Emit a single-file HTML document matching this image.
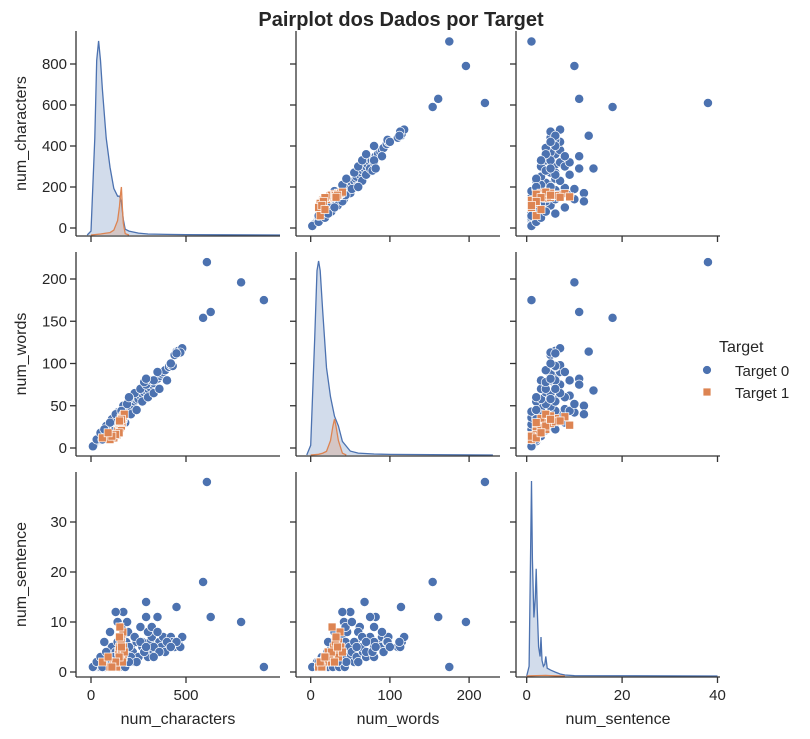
<!DOCTYPE html>
<html><head><meta charset="utf-8"><style>
html,body{margin:0;padding:0;background:#fff;}
svg{display:block;font-family:"Liberation Sans","DejaVu Sans",sans-serif;}
</style></head><body>
<svg id="chart" width="810" height="739" viewBox="0 0 810 739" xmlns="http://www.w3.org/2000/svg">
<text x="401" y="26" text-anchor="middle" font-size="20" font-weight="bold" fill="#262626">Pairplot dos Dados por Target</text>
<g id="g"></g>
<g>
<text x="719" y="352" font-size="16" fill="#262626">Target</text>
<circle cx="707" cy="370" r="4.5" fill="#4c72b0" stroke="#fff" stroke-width="0.8"/>
<text x="735" y="376" font-size="15" fill="#262626">Target 0</text>
<rect x="703" y="388" width="8" height="8" fill="#dd8452" stroke="#fff" stroke-width="0.8"/>
<text x="735" y="398" font-size="15" fill="#262626">Target 1</text>
</g>
</svg>
<script>
const vars = ["num_characters","num_words","num_sentence"];
const t0Chars = [20,25,30,35,40,45,50,55,60,65,70,75,80,85,90,95,100,105,110,115,120,125,130,135,140,145,150,155,160,165,170,175,180,185,190,195,200,210,220,230,240,250,260,270,280,290,300,310,320,330,340,350,360,370,380,390,410,420,440,450,460,480,470,430,15,10,30,60,90,120,150,180,210,240,270,300,330,360,400,50,80,110,140,170,200,230,260,290,320,350,130,100,70,160,190,910,790,630,610,590,450,420,330,280,200,290];
const t0Words = [5,6,7,8,9,10,12,13,14,15,16,18,19,20,21,22,24,25,26,27,28,30,31,32,34,35,36,37,38,39,40,42,43,44,45,46,47,49,52,55,57,58,62,64,66,68,70,72,75,77,80,82,85,88,90,92,96,98,110,114,115,118,113,97,3,2,10,10,15,20,25,30,40,45,55,60,65,70,80,18,26,34,42,50,58,65,70,75,80,90,40,30,22,44,52,175,196,161,220,154,112,100,80,78,60,82];
const t0Sents = [1,1,1,2,1,2,1,2,3,1,2,1,3,2,4,1,2,3,5,2,1,3,4,2,6,3,1,5,2,7,4,3,1,6,2,8,3,5,4,2,6,3,9,5,4,14,3,6,7,4,5,11,6,5,7,4,6,7,5,13,6,7,5,6,1,1,2,1,2,3,4,5,3,2,6,8,5,4,6,3,4,2,10,12,5,7,6,11,9,8,12,8,6,9,10,1,10,11,38,18,6,5,3,4,2,5];
const t1Chars = [150,155,160,165,170,145,140,158,162,168,152,150,135,120,100,155,160,165,170,175,148,130,110,158,160,60,90,150];
const t1Words = [25,28,30,33,35,22,20,35,32,37,27,29,15,12,10,24,26,30,38,40,18,16,14,31,34,12,18,32];
const t1Sents = [2,3,4,5,3,4,2,6,7,8,9,5,1,2,1,3,4,2,5,4,3,2,1,6,5,2,3,7];
const kdeCharsGrid0 = [-20,0,20,30,40,50,60,80,100,120,140,150,160,170,180,200,250,300,400,500,700,1000];
const kdeCharsDen0 = [0,0.02,0.5,0.9,1.0,0.9,0.75,0.5,0.35,0.24,0.2,0.2,0.17,0.08,0.03,0.02,0.01,0.005,0.003,0.002,0.001,0];
const kdeCharsGrid1 = [0,50,80,100,120,140,150,155,160,165,170,180,200];
const kdeCharsDen1 = [0,0.02,0.04,0.05,0.1,0.3,0.6,0.85,1,0.6,0.25,0.03,0];
const kdeWordsGrid0 = [-5,0,5,8,10,12,15,20,25,30,35,40,50,60,80,100,230];
const kdeWordsDen0 = [0,0.05,0.6,0.95,1,0.95,0.75,0.45,0.3,0.2,0.15,0.07,0.02,0.01,0.005,0.003,0];
const kdeWordsGrid1 = [0,10,15,20,25,28,30,32,35,40,45];
const kdeWordsDen1 = [0,0.02,0.05,0.1,0.4,0.8,1,0.8,0.4,0.05,0];
const kdeSentGrid0 = [0,0.5,0.8,1,1.2,1.5,1.8,2,2.2,2.5,2.8,3,3.2,3.5,3.8,4,4.3,5,6,7,8,10,40];
const kdeSentDen0 = [0,0.05,0.6,1,0.6,0.3,0.4,0.55,0.35,0.15,0.1,0.2,0.08,0.05,0.06,0.1,0.04,0.03,0.02,0.01,0.005,0.002,0];
const kdeSentGrid1 = [0,1,2,3,4,5,6,8];
const kdeSentDen1 = [0,0.02,0.04,0.05,0.06,0.04,0.02,0];
const kdeHeights = [[194,48],[194,36],[195,10]];
const xTicks = [[0,500],[0,100,200],[0,20,40]];
const yTicks = [[0,200,400,600,800],[0,50,100,150,200],[0,10,20,30]];

const cols=[[76,280],[296,500],[516,720]];
const rows=[[31,236],[252,456],[472,677]];
const xs=[v=>91+v*0.19, v=>310.7+v*0.792, v=>526.7+v*4.77];
const ys=[v=>228-v*0.205, v=>448-v*0.845, v=>672-v*5];
const NS="http://www.w3.org/2000/svg";
const g=document.getElementById('g');
function mk(t,a,p){const e=document.createElementNS(NS,t);for(const k in a)e.setAttribute(k,a[k]);(p||g).appendChild(e);return e;}
const T0=[t0Chars,t0Words,t0Sents], T1=[t1Chars,t1Words,t1Sents];
const kde=[[[kdeCharsGrid0,kdeCharsDen0],[kdeCharsGrid1,kdeCharsDen1]],[[kdeWordsGrid0,kdeWordsDen0],[kdeWordsGrid1,kdeWordsDen1]],[[kdeSentGrid0,kdeSentDen0],[kdeSentGrid1,kdeSentDen1]]];
const colors=["#4c72b0","#dd8452"];
for(let r=0;r<3;r++)for(let c=0;c<3;c++){
  const pg=mk('g',{});
  
  
  const [x0,x1]=cols[c],[y0,y1]=rows[r];
  const cp=mk('clipPath',{id:'cp'+r+c},pg);mk('rect',{x:x0,y:y0-5,width:x1-x0,height:y1-y0+5},cp);
  const marks=mk('g',{'clip-path':'url(#cp'+r+c+')'},pg);
  if(r===c){
    for(let h=0;h<2;h++){
      const [gr,dn]=kde[c][h];const H=kdeHeights[c][h];const base=y1-1;
      let d='M'+xs[c](gr[0])+','+base;
      for(let i=0;i<gr.length;i++)d+=' L'+xs[c](gr[i]).toFixed(1)+','+(base-dn[i]*H).toFixed(1);
      let line='M'+xs[c](gr[0])+','+(base-dn[0]*H);
      for(let i=1;i<gr.length;i++)line+=' L'+xs[c](gr[i]).toFixed(1)+','+(base-dn[i]*H).toFixed(1);
      d+=' L'+xs[c](gr[gr.length-1])+','+base+' Z';
      const f=mk('path',{d:d,fill:colors[h],'fill-opacity':0.25,stroke:'none'},marks);
      
      
      const l=mk('path',{d:line,fill:'none',stroke:colors[h],'stroke-width':1.3},marks);
      
      
    }
  } else {
    const X0=T0[c],Y0=T0[r];
    for(let i=0;i<X0.length;i++){
      const e=mk('circle',{cx:xs[c](X0[i]),cy:ys[r](Y0[i]),r:4.6,fill:colors[0],stroke:'#fff','stroke-width':0.7},marks);
      
      
    }
    const X1=T1[c],Y1=T1[r];
    for(let i=0;i<X1.length;i++){
      const e=mk('rect',{x:xs[c](X1[i])-4,y:ys[r](Y1[i])-4,width:8,height:8,fill:colors[1],stroke:'#fff','stroke-width':0.7},marks);
      
      
    }
  }
  mk('line',{x1:x0,y1:y0,x2:x0,y2:y1,stroke:'#333','stroke-width':1.3},pg);
  mk('line',{x1:x0,y1:y1,x2:x1,y2:y1,stroke:'#333','stroke-width':1.3},pg);
  for(const t of yTicks[r]){const y=ys[r](t);
    mk('line',{x1:x0-6,y1:y,x2:x0,y2:y,stroke:'#333','stroke-width':1.3},pg);
    if(c===0){const e=mk('text',{x:x0-9,y:y+5,'text-anchor':'end','font-size':15,fill:'#262626'},pg);e.textContent=t;
      
      }
  }
  for(const t of xTicks[c]){const x=xs[c](t);
    mk('line',{x1:x,y1:y1,x2:x,y2:y1+6,stroke:'#333','stroke-width':1.3},pg);
    if(r===2){const e=mk('text',{x:x,y:y1+23,'text-anchor':'middle','font-size':15,fill:'#262626'},pg);e.textContent=t;
      
      }
  }
}
for(let i=0;i<3;i++){
  const e=mk('text',{x:(cols[i][0]+cols[i][1])/2,y:724,'text-anchor':'middle','font-size':16,fill:'#262626'});e.textContent=vars[i];
  
  
  const yc=(rows[i][0]+rows[i][1])/2;
  const f=mk('text',{x:26,y:yc,'text-anchor':'middle','font-size':16,fill:'#262626',transform:'rotate(-90 26 '+yc+')'});f.textContent=vars[i];
  
  
}
</script>
</body></html>
